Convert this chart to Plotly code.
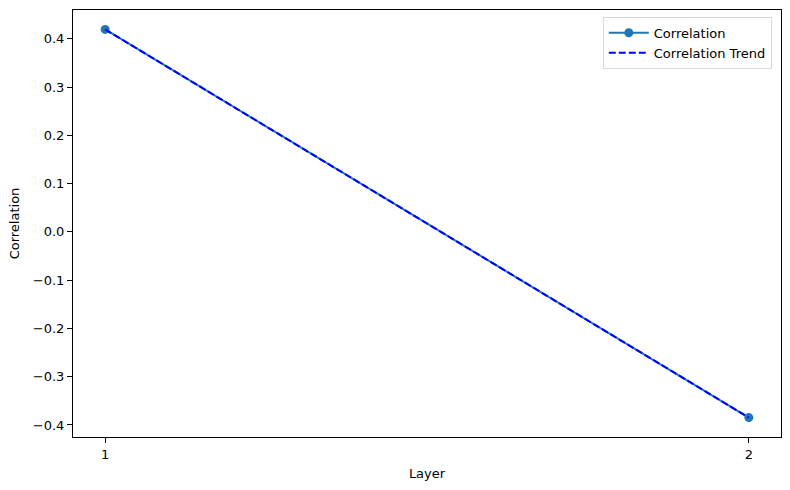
import plotly.graph_objects as go

# Layer-wise correlation values
layers = [1, 2]
correlation = [0.4195, -0.3847]
trend = [0.4195, -0.3847]

x_ticks = [1, 2]
y_ticks = [-0.4, -0.3, -0.2, -0.1, 0.0, 0.1, 0.2, 0.3, 0.4]

font = dict(family="DejaVu Sans", size=13, color="black")

fig = go.Figure()
fig.add_trace(go.Scatter(
    x=layers, y=correlation, mode="lines+markers", name="Correlation",
    line=dict(color="#1f77b4", width=2), marker=dict(color="#1f77b4", size=9),
))
fig.add_trace(go.Scatter(
    x=layers, y=trend, mode="lines", name="Correlation Trend",
    line=dict(color="blue", width=2, dash="7px,3px"),
))

axis_common = dict(
    showline=True, linecolor="black", linewidth=1, mirror=True,
    ticks="outside", ticklen=5, tickcolor="black", tickwidth=1,
    showgrid=False, zeroline=False, tickfont=font,
)

span_y = max(correlation) - min(correlation)
fig.update_xaxes(
    range=[0.95, 2.05], tickvals=x_ticks, ticktext=[str(v) for v in x_ticks],
    title=dict(text="Layer", font=font, standoff=8), **axis_common,
)
fig.update_yaxes(
    range=[min(correlation) - 0.05 * span_y, max(correlation) + 0.05 * span_y],
    tickvals=y_ticks, tickformat=".1f",
    title=dict(text="Correlation", font=font, standoff=10), **axis_common,
)

fig.update_layout(
    width=790, height=490,
    margin=dict(l=73, r=9, t=10, b=53),
    plot_bgcolor="white", paper_bgcolor="white",
    font=font,
    legend=dict(
        x=0.987, y=0.984, xanchor="right", yanchor="top",
        bgcolor="white", bordercolor="#d9d9d9", borderwidth=1,
        font=font, itemwidth=40, tracegroupgap=0,
    ),
)

# drop the default page margin so the figure sits at the window origin
fig.write_html(
    "out.html",
    config={"displayModeBar": False},
    post_script="document.body.style.margin='0';",
)
